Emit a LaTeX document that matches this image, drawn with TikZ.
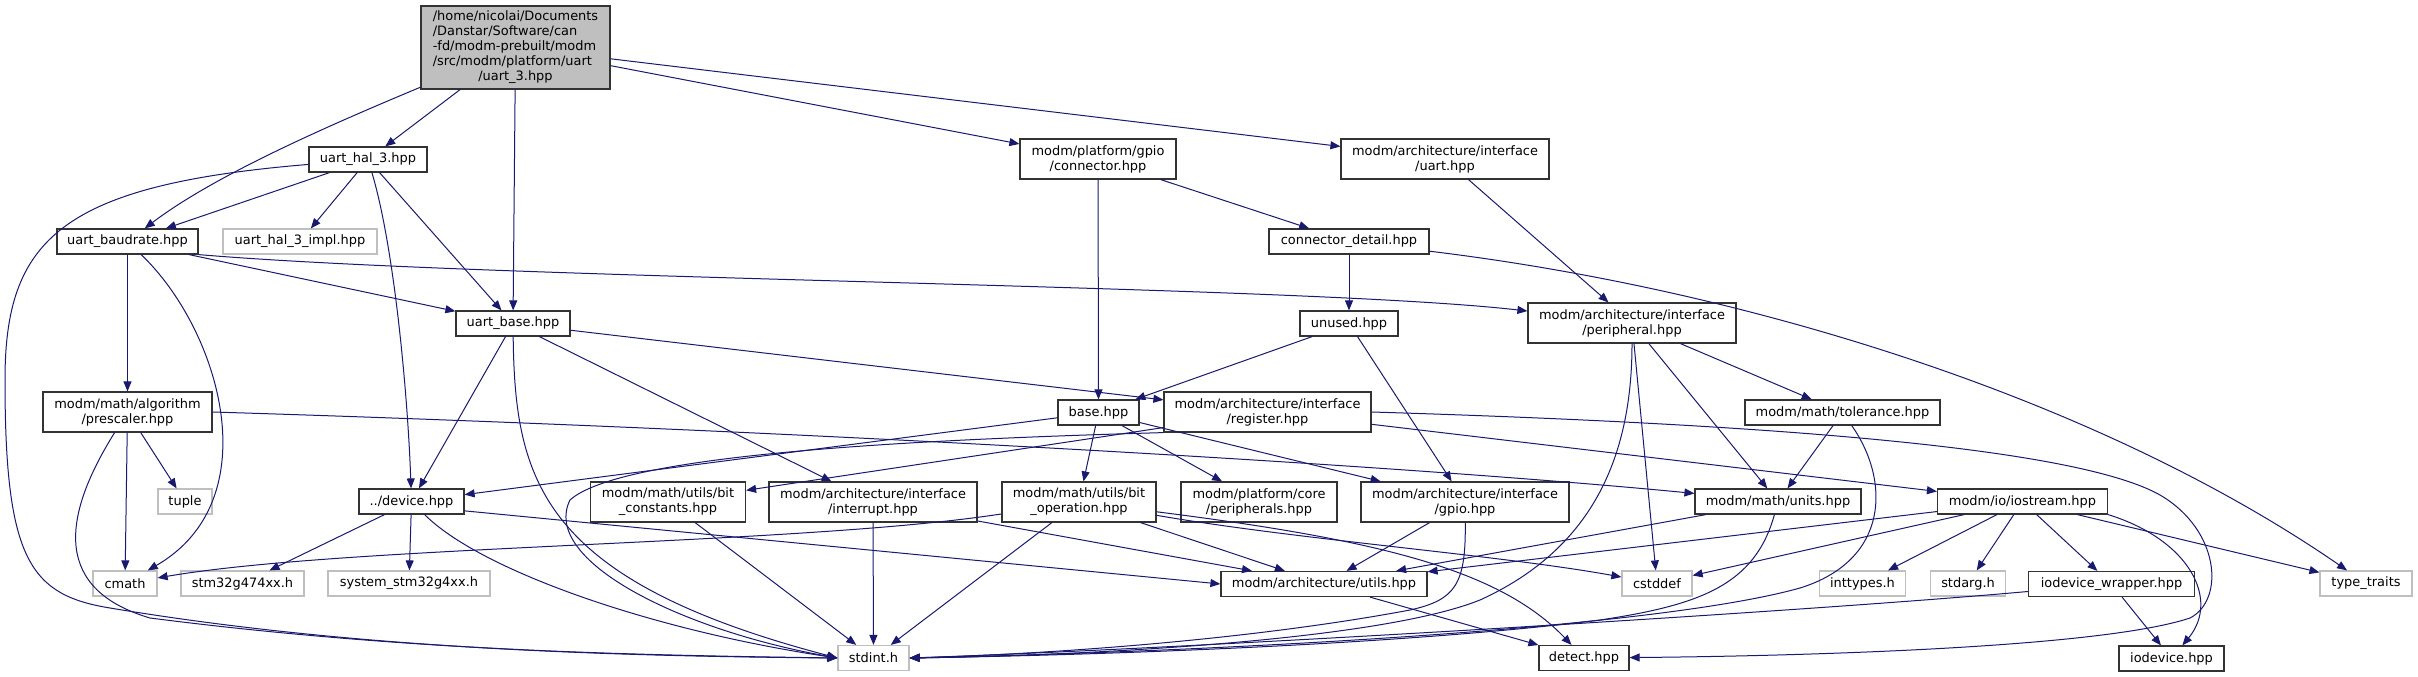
\documentclass[tikz,border=0pt]{standalone}
\usepackage{fontspec}
\setmainfont{DejaVu Sans}
\usetikzlibrary{arrows.meta}
\definecolor{dxEdge}{HTML}{191970}
\definecolor{dxGrey}{HTML}{BFBFBF}
\definecolor{dxInk}{HTML}{333333}
\tikzset{
  file/.style={
    draw=dxInk, line width=0.9pt, fill=white, inner sep=0pt,
    align=center, font=\fontsize{9.7pt}{11.25pt}\selectfont,
    minimum height=18.75pt
  },
  twoline/.style={file, minimum height=30pt},
  sysfile/.style={file, draw=dxGrey},
  rootfile/.style={file, fill=dxGrey, minimum height=62.25pt},
  dep/.style={-{Triangle[length=7.5pt,width=6pt]}, line width=0.75pt, draw=dxEdge},
}

\begin{document}
\begin{tikzpicture}[x=0.75pt, y=-0.75pt]
  \useasboundingbox (0,0) rectangle (2418,677);
  \fill[white] (0,0) rectangle (2418,677);

  % rows of the include graph
  \node[rootfile, minimum width=141.75pt] (root) at (515.5,47.5)
    {\begin{tabular}{@{}l@{}}/home/nicolai/Documents\\/Danstar/Software/can\\-fd/modm-prebuilt/modm\\/src/modm/platform/uart\\\multicolumn{1}{@{}c@{}}{/uart\_3.hpp}\end{tabular}};

  \node[file, minimum width=88.5pt] (hal) at (368,159.5) {uart\_hal\_3.hpp};
  \node[twoline, minimum width=117pt] (conn) at (1098,159) {modm/platform/gpio\\/connector.hpp};
  \node[twoline, minimum width=156pt] (uartif) at (1445,159) {modm/architecture/interface\\/uart.hpp};

  \node[file, minimum width=105.75pt] (baud) at (127.5,241.5) {uart\_baudrate.hpp};
  \node[sysfile, minimum width=115.5pt] (halimpl) at (300,241.5) {uart\_hal\_3\_impl.hpp};
  \node[file, minimum width=120pt] (cdet) at (1349,241.5) {connector\_detail.hpp};

  \node[file, minimum width=85.5pt] (ubase) at (513,323.5) {uart\_base.hpp};
  \node[file, minimum width=73.5pt] (unused) at (1349,323.5) {unused.hpp};
  \node[twoline, minimum width=156pt] (periph) at (1632,323) {modm/architecture/interface\\/peripheral.hpp};

  \node[twoline, minimum width=126.75pt] (pres) at (127.5,412) {modm/math/algorithm\\/prescaler.hpp};
  \node[file, minimum width=60.75pt] (base) at (1098.5,412.5) {base.hpp};
  \node[twoline, minimum width=155.25pt] (reg) at (1267.5,412) {modm/architecture/interface\\/register.hpp};
  \node[file, minimum width=146.25pt] (tol) at (1842.5,412.5) {modm/math/tolerance.hpp};

  \node[sysfile, minimum width=40.5pt] (tuple) at (185,501.5) {tuple};
  \node[file, minimum width=78.75pt] (device) at (411.5,501.5) {../device.hpp};
  \node[twoline, minimum width=116.25pt] (bitc) at (668,502) {modm/math/utils/bit\\\_constants.hpp};
  \node[twoline, minimum width=156pt] (intr) at (873,502) {modm/architecture/interface\\/interrupt.hpp};
  \node[twoline, minimum width=115.5pt] (bitop) at (1079,502) {modm/math/utils/bit\\\_operation.hpp};
  \node[twoline, minimum width=117pt] (periphs) at (1259,502) {modm/platform/core\\/peripherals.hpp};
  \node[twoline, minimum width=156pt] (gpio) at (1465,502) {modm/architecture/interface\\/gpio.hpp};
  \node[file, minimum width=124.5pt] (units) at (1778,501.5) {modm/math/units.hpp};
  \node[file, minimum width=127.5pt] (ios) at (2022.5,501.5) {modm/io/iostream.hpp};

  \node[sysfile, minimum width=48pt] (cmath) at (125,583.5) {cmath};
  \node[sysfile, minimum width=92.25pt] (stm) at (242.5,583.5) {stm32g474xx.h};
  \node[sysfile, minimum width=121.5pt] (sysstm) at (409,583.5) {system\_stm32g4xx.h};
  \node[file, minimum width=154.5pt] (utils) at (1324,584) {modm/architecture/utils.hpp};
  \node[sysfile, minimum width=52.5pt] (cstddef) at (1657,583.5) {cstddef};
  \node[sysfile, minimum width=64.5pt] (inttypes) at (1862.5,583.5) {inttypes.h};
  \node[sysfile, minimum width=56pt] (stdarg) at (1968,583.5) {stdarg.h};
  \node[file, minimum width=124.5pt] (iow) at (2111.5,584) {iodevice\_wrapper.hpp};
  \node[sysfile, minimum width=69pt] (traits) at (2366,583.5) {type\_traits};

  \node[sysfile, minimum width=53.25pt] (stdint) at (873.5,658) {stdint.h};
  \node[file, minimum width=67.5pt] (detect) at (1584,658) {detect.hpp};
  \node[file, minimum width=78.75pt] (iodev) at (2171.5,658.5) {iodevice.hpp};

  % includes of uart_3.hpp
  \draw[dep] (root) -- (hal);
  \draw[dep] (root) .. controls (330,125) and (215,175) .. (baud);
  \draw[dep] (root) -- (ubase);
  \draw[dep] (root) -- (conn);
  \draw[dep] (root) -- (uartif);

  \draw[dep] (hal) .. controls (60,185) and (5,240) .. (5,380)
    .. controls (5,560) and (30,595) .. (110,608)
    .. controls (350,648) and (600,656) .. (stdint.west);
  \draw[dep] (hal) -- (baud);
  \draw[dep] (hal) -- (halimpl);
  \draw[dep] (hal) .. controls (395,250) and (408,400) .. (device);
  \draw[dep] (hal) -- (ubase);

  \draw[dep] (baud) -- (pres);
  \draw[dep] (baud) .. controls (220,330) and (270,500) .. (cmath);
  \draw[dep] (baud) -- (ubase);
  \draw[dep] (baud.south east) .. controls (500,280) and (1300,285) .. (periph);

  \draw[dep] (conn) -- (cdet);
  \draw[dep] (conn) -- (base);
  \draw[dep] (uartif) -- (periph);
  \draw[dep] (cdet) -- (unused);
  \draw[dep] (cdet) .. controls (1750,290) and (2100,400) .. (traits);

  \draw[dep] (ubase) -- (device);
  \draw[dep] (ubase) .. controls (515,480) and (540,580) .. (stdint.west);
  \draw[dep] (ubase) -- (intr);
  \draw[dep] (ubase) -- (reg);

  \draw[dep] (unused) -- (base);
  \draw[dep] (unused) -- (gpio);

  \draw[dep] (periph) .. controls (1632,460) and (1590,550) .. (1480,600)
    .. controls (1380,640) and (1100,655) .. (stdint.east);
  \draw[dep] (periph) -- (cstddef);
  \draw[dep] (periph) -- (units);
  \draw[dep] (periph) -- (tol);

  \draw[dep] (pres) -- (cmath);
  \draw[dep] (pres) -- (tuple);
  \draw[dep] (pres) .. controls (60,520) and (55,590) .. (150,618)
    .. controls (400,650) and (620,655) .. (stdint.west);
  \draw[dep] (pres.east) .. controls (800,430) and (1400,465) .. (units);

  \draw[dep] (base) -- (device);
  \draw[dep] (base) -- (bitop);
  \draw[dep] (base) -- (periphs);
  \draw[dep] (base) -- (gpio);

  \draw[dep] (reg) -- (bitc);
  \draw[dep] (reg.south west) .. controls (900,440) and (620,455) .. (570,500)
    .. controls (540,560) and (680,630) .. (stdint.west);
  \draw[dep] (reg) -- (ios);
  \draw[dep] (reg.east) .. controls (1800,425) and (2080,450) .. (2160,495)
    .. controls (2220,530) and (2225,600) .. (2190,618)
    .. controls (2100,648) and (1800,656) .. (detect);

  \draw[dep] (tol) -- (units);
  \draw[dep] (tol) .. controls (1890,480) and (1890,560) .. (1800,588)
    .. controls (1650,630) and (1200,652) .. (stdint.east);

  \draw[dep] (device) -- (stm);
  \draw[dep] (device) -- (sysstm);
  \draw[dep] (device) .. controls (480,570) and (650,630) .. (stdint.west);
  \draw[dep] (device.-10) -- (utils.west);

  \draw[dep] (bitc) -- (stdint);
  \draw[dep] (intr) -- (stdint);
  \draw[dep] (intr) -- (utils);

  \draw[dep] (bitop) -- (stdint);
  \draw[dep] (bitop) .. controls (800,545) and (350,545) .. (cmath);
  \draw[dep] (bitop) -- (utils);
  \draw[dep] (bitop) .. controls (1300,540) and (1500,555) .. (cstddef);
  \draw[dep] (bitop) .. controls (1380,540) and (1500,570) .. (detect);

  \draw[dep] (gpio) -- (utils);
  \draw[dep] (gpio) .. controls (1466,585) and (1455,600) .. (1410,610)
    .. controls (1250,640) and (1050,654) .. (stdint.east);

  \draw[dep] (units) -- (utils);
  \draw[dep] (units) .. controls (1755,585) and (1700,605) .. (1600,620)
    .. controls (1400,645) and (1100,655) .. (stdint.east);

  \draw[dep] (ios) -- (utils);
  \draw[dep] (ios) -- (cstddef);
  \draw[dep] (ios) -- (inttypes);
  \draw[dep] (ios) -- (stdarg);
  \draw[dep] (ios) -- (iow);
  \draw[dep] (ios) -- (traits);
  \draw[dep] (ios.south east) .. controls (2190,540) and (2220,600) .. (iodev);

  \draw[dep] (iow) .. controls (1800,612) and (1200,648) .. (stdint.east);
  \draw[dep] (iow) -- (iodev);
  \draw[dep] (utils) -- (detect);
\end{tikzpicture}
\end{document}
